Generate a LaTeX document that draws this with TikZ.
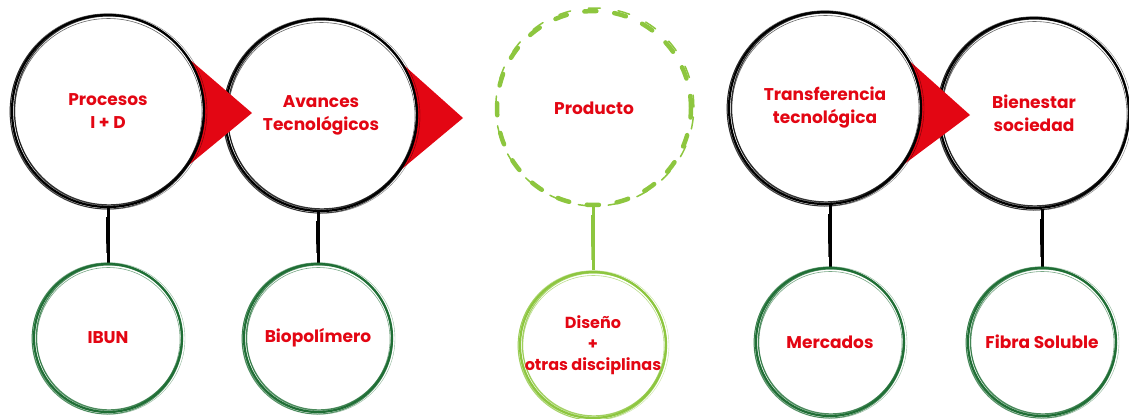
\documentclass[tikz,border=0pt]{standalone}
\usepackage{fontspec}
\setmainfont{Poppins}
\usetikzlibrary{backgrounds}
\definecolor{ured}{HTML}{E30613}
\definecolor{dgreen}{HTML}{1F6E35}
\definecolor{lgreen}{HTML}{8DC63F}
\newcommand\skcircle[3]{%
  \foreach \dx/\dy/\dr/\w/\o in {0/0/0/2.2/1, 0.9/-0.6/-1.5/1.2/0.8, -0.7/0.8/1.2/1.0/0.75, 0.4/1.1/-2.4/0.6/0.6, -1/-0.4/0.8/0.6/0.6, 1.2/0.5/1.8/0.4/0.5}{%
    \draw[#3, line width=\w pt, opacity=\o] ([shift={(\dx,\dy)}]#1.center) circle[radius={(#2+\dr)*1pt}];
  }}
\newcommand\skstem[3]{%
  \draw[#3, line width=3pt] (#2.north) -- (#2.north |- #1.south);
  \draw[#3, line width=1pt] ([xshift=-1.4pt,yshift=-10pt]#2.north |- #1.south) -- ([xshift=-1.2pt,yshift=10pt]#2.north);
}
\tikzset{
  lbl/.style={circle, inner sep=0pt, text=ured, align=center,
    font=\bfseries\fontsize{17}{23}\selectfont},
  bigc/.style={lbl, minimum size=192pt},
  smallc/.style={lbl, minimum size=150pt},
  arrowtri/.style={fill=ured},
}
\begin{document}
\begin{tikzpicture}[x=1pt,y=-1pt]
\useasboundingbox (0,0) rectangle (1129,418);
% main nodes
\node[bigc] (c1) at (108,111) {Procesos\\I + D};
\node[bigc] (c2) at (321,115) {Avances\\Tecnológicos};
\node[bigc, minimum size=194pt] (c3) at (594,108) {\raisebox{-5pt}{Producto}};
\node[bigc] (c4) at (825,108) {Transferencia\\tecnológica};
\node[bigc] (c5) at (1034,113) {Bienestar\\sociedad};
% lower nodes
\node[smallc] (s1) at (108,338) {IBUN};
\node[smallc] (s2) at (318,338) {Biopolímero};
\node[smallc, font=\bfseries\fontsize{16}{21}\selectfont] (s3) at (593,345) {Diseño\\+\\otras disciplinas};
\node[smallc] (s4) at (830,342) {Mercados};
\node[smallc] (s5) at (1042,342) {Fibra Soluble};
% arrow tips
\coordinate (t1) at (252,113);
\coordinate (t2) at (463,118);
\coordinate (t3) at (970,115);
\begin{scope}[on background layer]
  % first pair
  \fill[arrowtri] (c2.32) -- (t2) -- (c2.-36) -- cycle;
  \fill[white] (c2.center) circle[radius=96pt];
  \skcircle{c2}{96}{black}
  \fill[arrowtri] (c1.33) -- (t1) -- (c1.-36) -- cycle;
  \fill[white] (c1.center) circle[radius=96pt];
  \skcircle{c1}{96}{black}
  % product
  \draw[lgreen, line width=4.5pt, line cap=round, dash pattern=on 12pt off 18pt] (c3.center) circle[radius=97pt];
  \draw[lgreen, line width=1.5pt, line cap=round, dash pattern=on 12pt off 18pt] ([shift={(0.8,-1)}]c3.center) circle[radius=99pt];
  % second pair
  \skcircle{c5}{95}{black}
  \fill[arrowtri] (c4.30) -- (t3) -- (c4.-37) -- cycle;
  \fill[white] (c4.center) circle[radius=96pt];
  \skcircle{c4}{96}{black}
  % stems
  \skstem{c1}{s1}{black}
  \skstem{c2}{s2}{black}
  \skstem{c3}{s3}{lgreen}
  \skstem{c4}{s4}{black}
  \skstem{c5}{s5}{black}
  % lower circles
  \skcircle{s1}{74}{dgreen}
  \skcircle{s2}{74}{dgreen}
  \skcircle{s3}{73}{lgreen}
  \skcircle{s4}{74}{dgreen}
  \skcircle{s5}{74}{dgreen}
\end{scope}
\end{tikzpicture}
\end{document}
